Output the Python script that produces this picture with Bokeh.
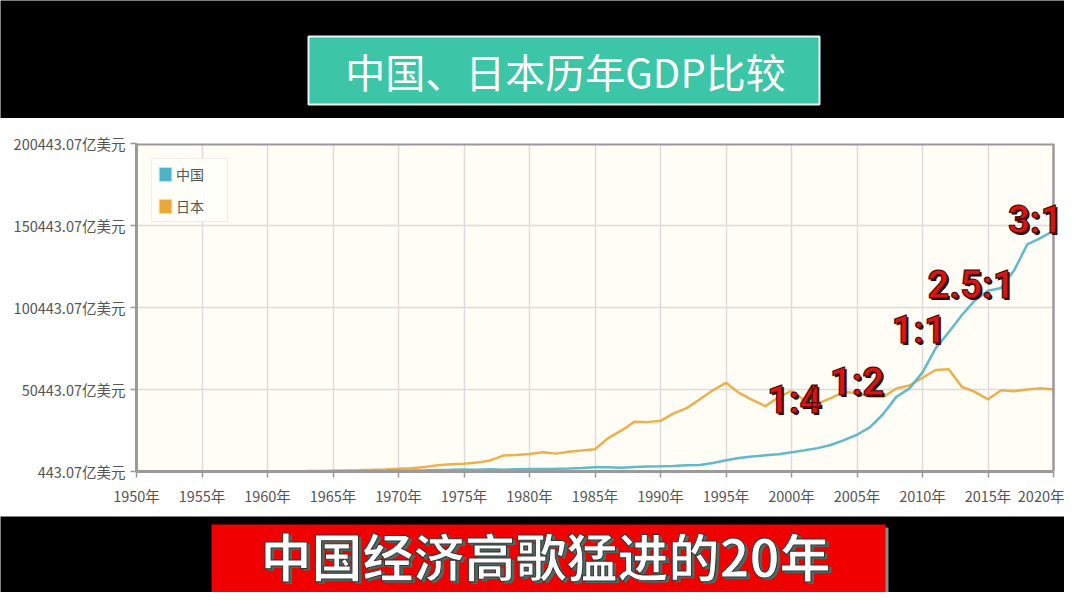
from bokeh.plotting import figure
from bokeh.layouts import column
from bokeh.models import Range1d, FixedTicker, CustomJSTickFormatter, Label, BoxAnnotation, Span
from bokeh.embed import file_html
from bokeh.resources import INLINE

# ---------------- data ----------------
title_text = "中国、日本历年GDP比较"
banner_text = "中国经济高歌猛进的20年"
series_names = ["中国", "日本"]

years = [1960, 1961, 1962, 1963, 1964, 1965, 1966, 1967, 1968, 1969,
         1970, 1971, 1972, 1973, 1974, 1975, 1976, 1977, 1978, 1979,
         1980, 1981, 1982, 1983, 1984, 1985, 1986, 1987, 1988, 1989,
         1990, 1991, 1992, 1993, 1994, 1995, 1996, 1997, 1998, 1999,
         2000, 2001, 2002, 2003, 2004, 2005, 2006, 2007, 2008, 2009,
         2010, 2011, 2012, 2013, 2014, 2015, 2016, 2017, 2018, 2019, 2020]

china_gdp = [597.2, 500.6, 472.1, 507.1, 597.1, 703.9, 767.2, 728.8, 708.5, 797.2,
             926.0, 998.0, 1136.9, 1384.6, 1442.2, 1634.3, 1539.4, 1749.4, 1495.4, 1782.8,
             1911.5, 1958.7, 2050.9, 2306.9, 2599.5, 3094.9, 3007.6, 2729.7, 3123.5, 3477.7,
             3608.6, 3834.0, 4269.2, 4447.3, 5643.2, 7345.5, 8637.5, 9616.0, 10290.4, 10939.9,
             12113.5, 13393.9, 14705.5, 16602.9, 19553.5, 22859.7, 27521.3, 35503.4, 45943.1, 51016.9,
             60871.6, 75515.0, 85322.3, 95704.1, 104756.8, 110616.1, 112332.8, 123104.1, 138948.2, 142799.3,
             147227.3]

japan_gdp = [443.07, 535.1, 607.2, 695.0, 817.5, 909.5, 1056.3, 1236.9, 1466.0, 1722.2,
             2126.1, 2402.2, 3179.7, 4320.8, 4796.3, 5215.4, 5862.1, 7214.1, 10135.9, 10550.1,
             11053.9, 12188.9, 11345.2, 12433.2, 13184.0, 13989.0, 20789.0, 25327.8, 30717.0, 30548.8,
             31328.2, 35842.0, 39087.9, 44541.0, 49987.9, 54491.0, 48337.1, 44147.3, 40325.1, 45620.8,
             49683.6, 43746.9, 41827.5, 45196.4, 48931.4, 48314.7, 46017.0, 45797.5, 51067.1, 52894.9,
             57591.0, 62331.5, 62724.2, 52123.3, 48968.9, 44449.3, 50037.0, 49308.4, 50409.1, 51179.9,
             50401.1]

x_ticks = [1950, 1955, 1960, 1965, 1970, 1975, 1980, 1985, 1990, 1995, 2000, 2005, 2010, 2015, 2020]
y_ticks = [443.07, 50443.07, 100443.07, 150443.07, 200443.07]

ratio_texts = ["1:4", "1:2", "1:1", "2.5:1", "3:1"]
ratio_x = [2000.2, 2005.0, 2009.7, 2013.7, 2018.6]
ratio_y = [43870, 54880, 86680, 114200, 153960]

CN_COLOR = "#4fb2c8"
JP_COLOR = "#eaa83a"
CJK = "Noto Sans CJK SC"
W = 1064
LEFT = 136                      # frame left (canvas px)
RIGHT_2020 = 1053               # canvas px of year 2020
PX_PER_YEAR = (RIGHT_2020 - LEFT) / (x_ticks[-1] - x_ticks[0])
X_END = x_ticks[-1] + (W - RIGHT_2020) / PX_PER_YEAR

# ---------------- top band ----------------
top = figure(width=W, height=118, x_range=Range1d(0, W), y_range=Range1d(118, 0),
             x_axis_type=None, y_axis_type=None, toolbar_location=None,
             output_backend="svg", min_border=0)
top.background_fill_color = "black"
top.border_fill_color = "black"
top.outline_line_color = None
top.grid.visible = False
top.quad(left=[308], right=[819], top=[36], bottom=[104],
         fill_color="#3cc5a7", line_color="#e6f7f2", line_width=2)
top.add_layout(Label(x=565, y=70, text=title_text, text_align="center",
                     text_baseline="middle", text_color="white",
                     text_font=CJK, text_font_size="40px"))

# ---------------- chart ----------------
p = figure(width=W, height=398, x_range=Range1d(x_ticks[0], X_END),
           y_range=Range1d(y_ticks[0], y_ticks[-1]),
           toolbar_location=None, output_backend="svg",
           min_border_left=LEFT, min_border_right=0,
           min_border_top=25, min_border_bottom=45)
p.background_fill_color = "#fffdf6"
p.border_fill_color = "white"
p.outline_line_color = None

p.xaxis.ticker = FixedTicker(ticks=x_ticks)
p.yaxis.ticker = FixedTicker(ticks=y_ticks)
p.xaxis.bounds = (x_ticks[0], x_ticks[-1])
p.xaxis.formatter = CustomJSTickFormatter(code='return tick + "年";')
p.yaxis.formatter = CustomJSTickFormatter(code='return tick.toFixed(2) + "亿美元";')
for ax in (p.xaxis, p.yaxis):
    ax.axis_line_color = "#9a9a9a"
    ax.axis_line_width = 3
    ax.major_tick_line_color = "#9a9a9a"
    ax.major_tick_line_width = 1.5
    ax.major_tick_out = 6
    ax.major_tick_in = 0
    ax.minor_tick_line_color = None
    ax.major_label_text_color = "#555555"
    ax.major_label_text_font = CJK
    ax.major_label_text_font_size = "14.5px"
p.xaxis.major_label_standoff = 7
p.yaxis.major_label_standoff = 5
p.grid.grid_line_color = "#dcdcdc"
p.grid.grid_line_width = 1.5

p.line(years, japan_gdp, line_color=JP_COLOR, line_width=2.5, line_alpha=0.9)
p.line(years, china_gdp, line_color=CN_COLOR, line_width=2.5, line_alpha=0.9)

# top edge of the frame
p.segment(x0=[x_ticks[0]], y0=[y_ticks[-1]], x1=[x_ticks[-1]], y1=[y_ticks[-1]],
          line_color="#9a9a9a", line_width=4)

# legend swatches (proxies lying outside the visible range)
p.quad(left=[1900], right=[1901], top=[-10], bottom=[-20], fill_color=CN_COLOR,
       line_color="#cfeef5", legend_label=series_names[0])
p.quad(left=[1900], right=[1901], top=[-10], bottom=[-20], fill_color=JP_COLOR,
       line_color="#f8e2b8", legend_label=series_names[1])
lg = p.legend[0]
lg.location = "top_left"
lg.margin = 15
lg.padding = 5
lg.spacing = 12
lg.glyph_width = 16
lg.glyph_height = 18
lg.label_standoff = 3
lg.label_width = 46
lg.label_text_font = CJK
lg.label_text_font_size = "14px"
lg.label_text_color = "#555555"
lg.background_fill_color = "#fffef9"
lg.border_line_color = "#dddddd"
lg.border_line_width = 1

# white strip right of 2020 (room for the last label) and the right frame edge
p.add_layout(BoxAnnotation(left=x_ticks[-1], fill_color="white", fill_alpha=1.0,
                           line_color=None))
p.add_layout(Span(location=x_ticks[-1], dimension="height", line_color="#9a9a9a",
                  line_width=2.5))

RFONT = "Roboto"
for t, x, y in zip(ratio_texts, ratio_x, ratio_y):
    p.add_layout(Label(x=x, y=y, text=t, text_align="center", text_baseline="middle",
                       x_offset=2, y_offset=-2, text_color="#2a0606",
                       text_font=RFONT, text_font_style="bold",
                       text_font_size="38px"))
    p.add_layout(Label(x=x, y=y, text=t, text_align="center", text_baseline="middle",
                       text_color="#dd1414", text_outline_color="#3a0505",
                       text_font=RFONT, text_font_style="bold",
                       text_font_size="38px"))

# ---------------- bottom band ----------------
bot = figure(width=W, height=76, x_range=Range1d(0, W), y_range=Range1d(76, 0),
             x_axis_type=None, y_axis_type=None, toolbar_location=None,
             output_backend="svg", min_border=0)
bot.background_fill_color = "black"
bot.border_fill_color = "black"
bot.outline_line_color = None
bot.grid.visible = False
bot.quad(left=[214], right=[888], top=[11], bottom=[80],
         fill_color="#8a8a8a", line_color=None)
bot.quad(left=[211], right=[885], top=[8], bottom=[77],
         fill_color="#f00000", line_color=None)
bot.add_layout(Label(x=548, y=40, text=banner_text, text_align="center",
                     text_baseline="middle", text_color="#4b6a62",
                     text_font=CJK, text_font_style="bold",
                     text_font_size="51px"))
bot.add_layout(Label(x=545, y=38, text=banner_text, text_align="center",
                     text_baseline="middle", text_color="white",
                     text_outline_color="#333333",
                     text_font=CJK, text_font_style="bold",
                     text_font_size="51px"))

layout = column(top, column(p), bot, spacing=0)
open("out.html", "w").write(file_html(layout, INLINE))
